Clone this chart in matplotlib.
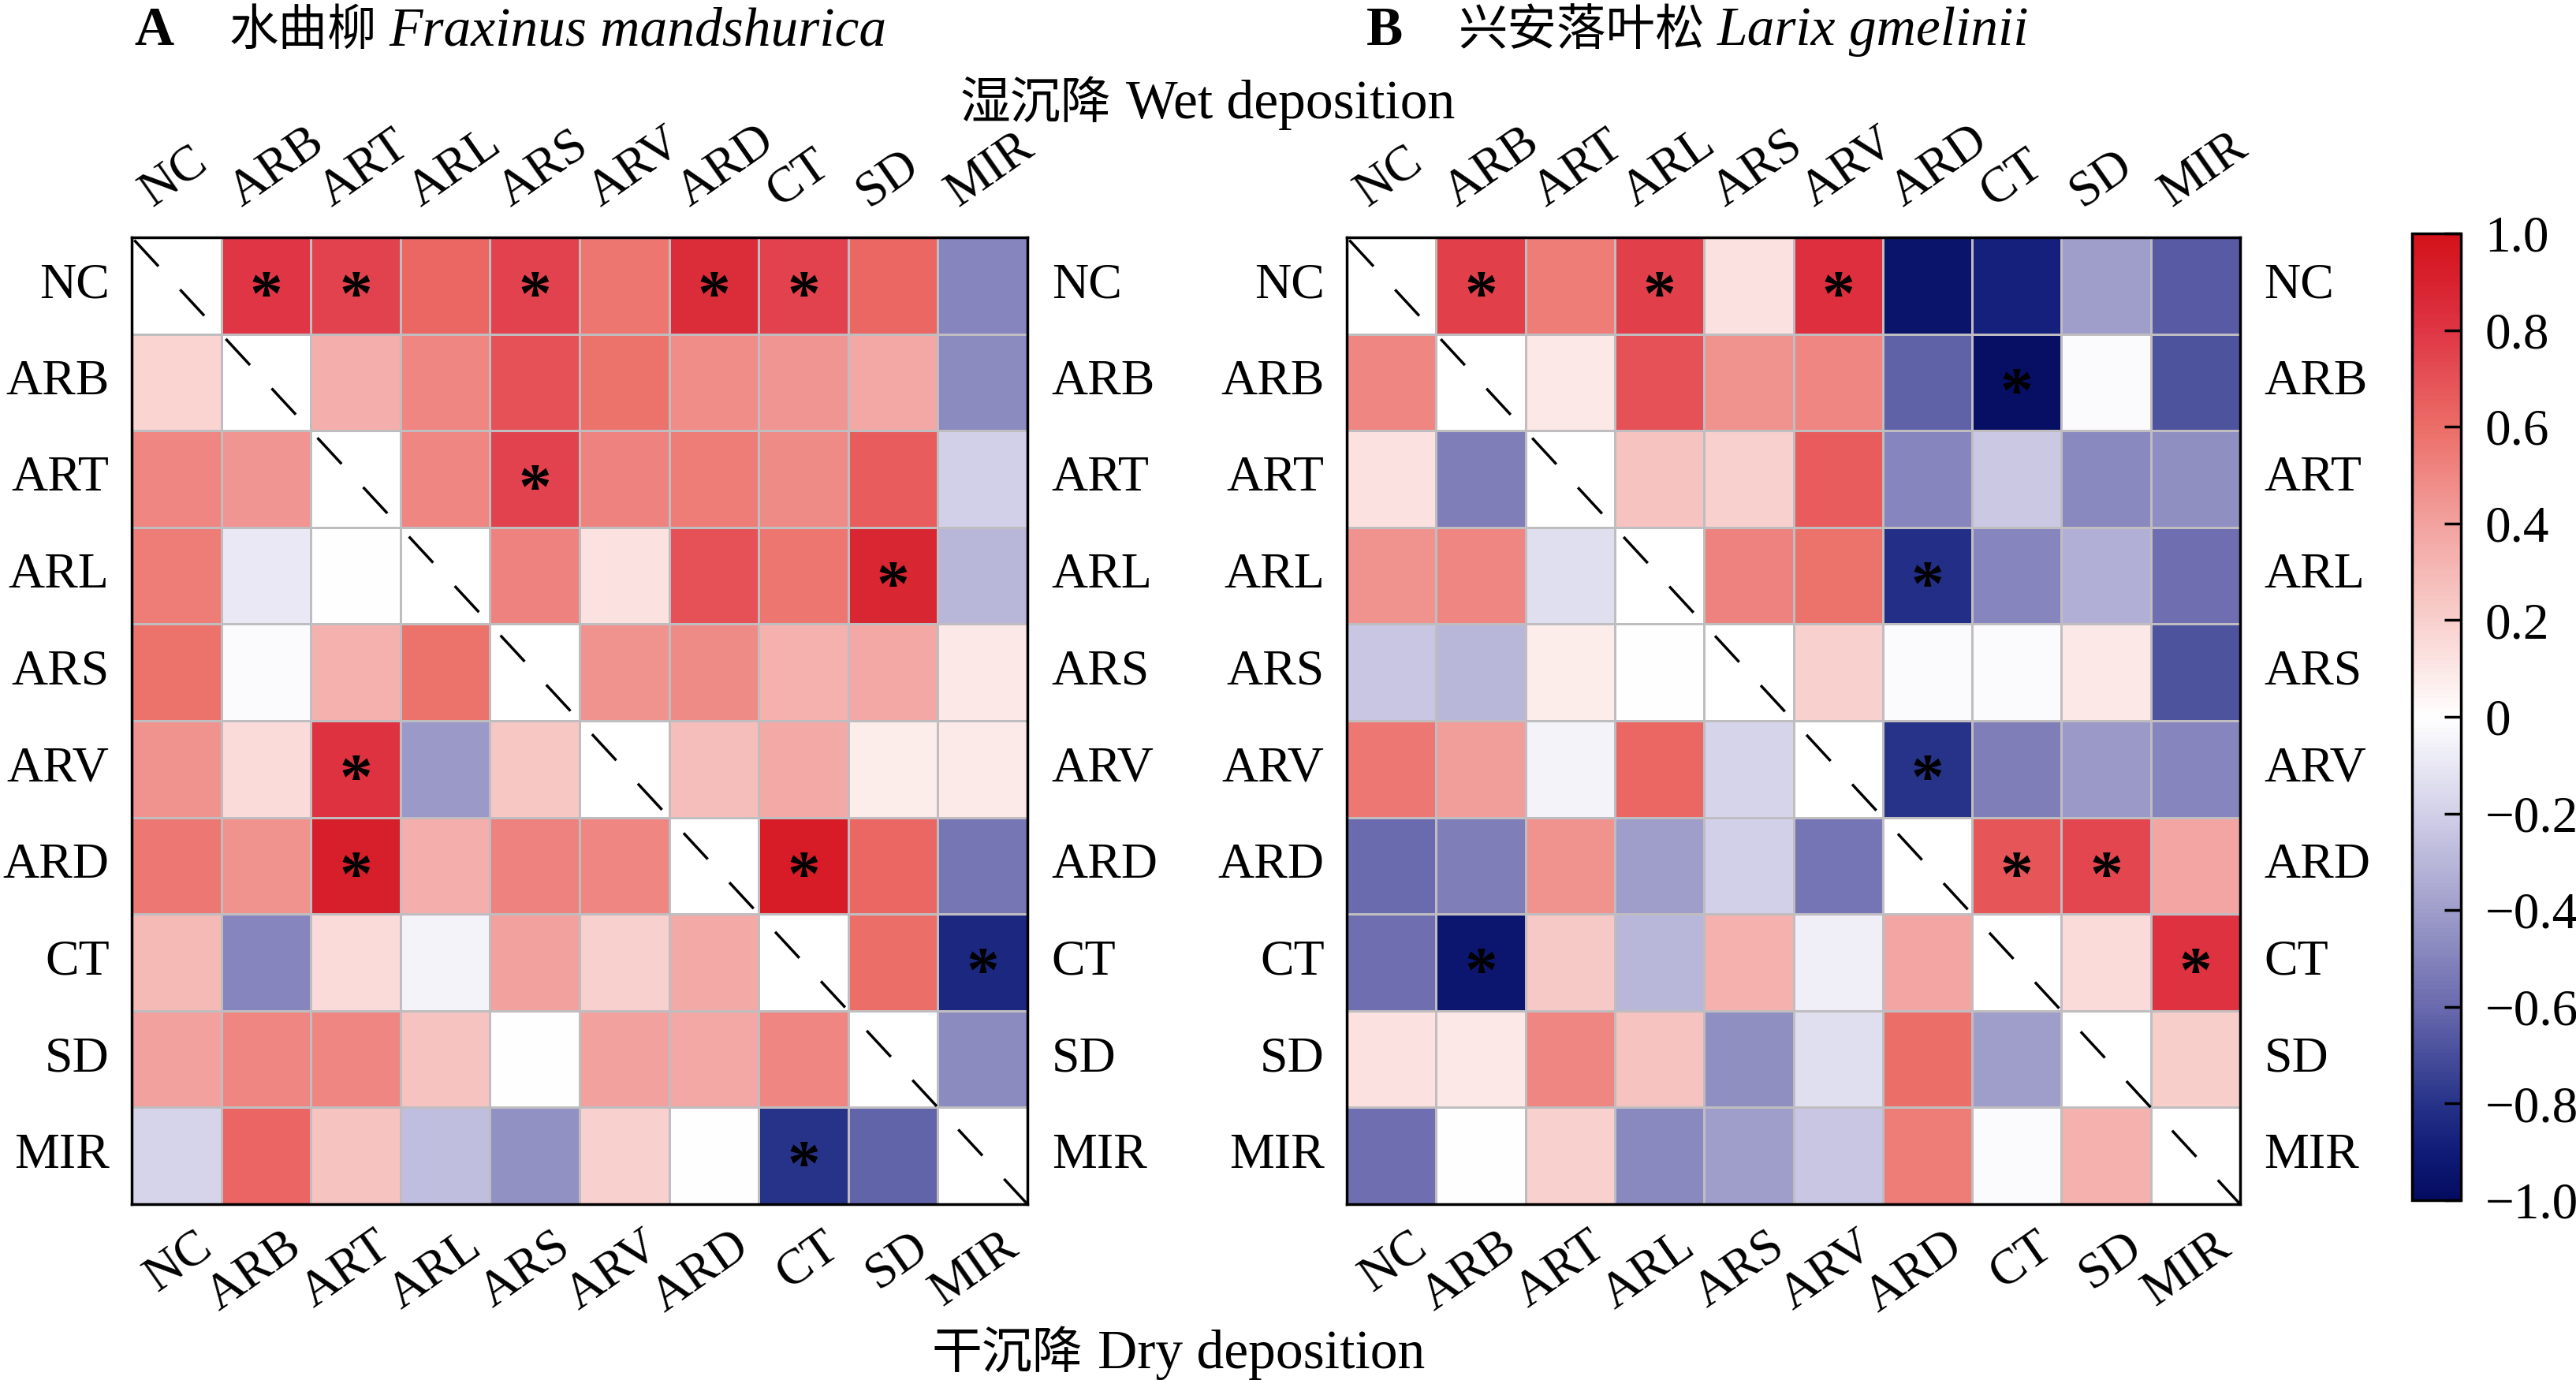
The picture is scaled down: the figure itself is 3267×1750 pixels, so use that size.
import matplotlib
matplotlib.use("Agg")
import matplotlib.pyplot as plt
import numpy as np
from matplotlib.colors import LinearSegmentedColormap

plt.rcParams['font.family'] = ['Liberation Serif', 'Noto Sans CJK SC']
plt.rcParams['axes.unicode_minus'] = True

# Data
labels = ["NC", "ARB", "ART", "ARL", "ARS", "ARV", "ARD", "CT", "SD", "MIR"]
nan = np.nan

# upper triangle = wet deposition, lower triangle = dry deposition
fm_corr = [
    [nan, 0.80, 0.75, 0.62, 0.75, 0.57, 0.85, 0.75, 0.62, -0.50],
    [0.18, nan, 0.35, 0.50, 0.70, 0.58, 0.48, 0.45, 0.37, -0.47],
    [0.50, 0.45, nan, 0.50, 0.75, 0.52, 0.54, 0.49, 0.66, -0.20],
    [0.54, -0.10, 0.00, nan, 0.52, 0.12, 0.70, 0.57, 0.88, -0.30],
    [0.58, -0.02, 0.33, 0.58, nan, 0.46, 0.49, 0.33, 0.37, 0.10],
    [0.46, 0.15, 0.82, -0.42, 0.24, nan, 0.28, 0.36, 0.08, 0.09],
    [0.56, 0.46, 0.92, 0.35, 0.52, 0.50, nan, 0.93, 0.62, -0.55],
    [0.30, -0.50, 0.15, -0.05, 0.40, 0.20, 0.36, nan, 0.60, -0.85],
    [0.40, 0.50, 0.50, 0.25, 0.00, 0.40, 0.37, 0.50, nan, -0.47],
    [-0.18, 0.63, 0.25, -0.27, -0.45, 0.20, 0.00, -0.80, -0.62, nan],
]
fm_sig = [(0, 1), (0, 2), (0, 4), (0, 6), (0, 7), (2, 4), (3, 8),
          (5, 2), (6, 2), (6, 7), (7, 9), (9, 7)]

lg_corr = [
    [nan, 0.76, 0.54, 0.76, 0.12, 0.83, -0.95, -0.88, -0.40, -0.65],
    [0.50, nan, 0.10, 0.70, 0.46, 0.50, -0.63, -0.98, -0.02, -0.68],
    [0.12, -0.52, nan, 0.25, 0.20, 0.66, -0.50, -0.23, -0.48, -0.46],
    [0.46, 0.50, -0.14, nan, 0.52, 0.58, -0.82, -0.50, -0.33, -0.58],
    [-0.24, -0.30, 0.08, 0.00, nan, 0.20, -0.02, -0.02, 0.10, -0.68],
    [0.56, 0.42, -0.05, 0.62, -0.18, nan, -0.80, -0.52, -0.42, -0.50],
    [-0.60, -0.52, 0.46, -0.40, -0.20, -0.56, nan, 0.68, 0.74, 0.39],
    [-0.58, -0.93, 0.23, -0.30, 0.33, -0.07, 0.39, nan, 0.15, 0.82],
    [0.12, 0.10, 0.50, 0.25, -0.46, -0.14, 0.60, -0.40, nan, 0.21],
    [-0.58, 0.00, 0.20, -0.48, -0.40, -0.24, 0.54, -0.02, 0.33, nan],
]
lg_sig = [(0, 1), (0, 3), (0, 5), (1, 7), (3, 6), (5, 6), (6, 7),
          (6, 8), (7, 1), (7, 9)]

cbar_ticks = [-1.0, -0.8, -0.6, -0.4, -0.2, 0.0, 0.2, 0.4, 0.6, 0.8, 1.0]
cbar_labels = ["\u22121.0", "\u22120.8", "\u22120.6", "\u22120.4", "\u22120.2",
               "0", "0.2", "0.4", "0.6", "0.8", "1.0"]

# Colour map
cmap = LinearSegmentedColormap.from_list("wetdry", [
    (0.0, "#040C60"), (0.05, "#101C78"), (0.1, "#283489"), (0.2, "#6A6AAE"),
    (0.3, "#A09ECB"), (0.4, "#D2D0E8"), (0.5, "#FFFFFF"), (0.6, "#F8D0CD"),
    (0.7, "#F2A29F"), (0.8, "#EC6E68"), (0.9, "#DF3645"), (0.95, "#D8222F"),
    (1.0, "#D4121B")])
cmap.set_bad("white")

W, H = 3267, 1750
fig = plt.figure(figsize=(W / 100, H / 100), dpi=100)


def px_rect(x0, y0, x1, y1):
    return [x0 / W, 1 - y1 / H, (x1 - x0) / W, (y1 - y0) / H]


def draw_panel(ax, corr, sig):
    data = np.ma.masked_invalid(np.array(corr, dtype=float))
    n = len(labels)
    mesh = ax.pcolormesh(np.arange(n + 1), np.arange(n + 1), data, cmap=cmap,
                         vmin=-1, vmax=1, edgecolors="#C0BDC0", linewidth=2.0)
    ax.set_xlim(0, n)
    ax.set_ylim(n, 0)
    ax.set_xticks([])
    ax.set_yticks([])
    for s in ax.spines.values():
        s.set_linewidth(2.5)
        s.set_zorder(5)
    # dashed diagonal
    ax.plot([0, n], [0, n], color="black", lw=2.5,
            linestyle=(23.2, (13.0, 11.6)), solid_capstyle="butt",
            dash_capstyle="butt")
    for (i, j) in sig:
        ax.text(j + 0.5, i + 0.64, "*", ha="center", va="center",
                fontsize=60, fontweight="bold", color="black")
    for k, lab in enumerate(labels):
        ax.text(-0.25, k + 0.5, lab, ha="right", va="center", fontsize=46)
        ax.text(n + 0.27, k + 0.5, lab, ha="left", va="center", fontsize=46)
        ax.text(k + 0.3, -0.22, lab, ha="left", va="bottom", fontsize=46,
                rotation=35, rotation_mode="anchor")
        ax.text(k + 0.7, n + 0.2, lab, ha="right", va="top", fontsize=46,
                rotation=35, rotation_mode="anchor")
    return mesh


ax_a = fig.add_axes(px_rect(167, 301, 1303, 1527))
mesh = draw_panel(ax_a, fm_corr, fm_sig)
ax_b = fig.add_axes(px_rect(1708, 301, 2841, 1527))
draw_panel(ax_b, lg_corr, lg_sig)

cax = fig.add_axes(px_rect(3059, 296, 3121, 1522))
cb = fig.colorbar(mesh, cax=cax, ticks=cbar_ticks)
cb.ax.set_yticklabels(cbar_labels)
cb.ax.tick_params(direction="in", length=15, width=2.5, labelsize=47, pad=22,
                  right=True, left=False)
cb.outline.set_linewidth(2.5)

# titles and axis captions, built piece by piece
renderer = fig.canvas.get_renderer()


def text_pieces(x_px, y_px, pieces):
    x = x_px
    for txt, size, kw, gap in pieces:
        t = fig.text(x / W, 1 - y_px / H, txt, ha="left", va="baseline",
                     fontsize=size, **kw)
        bb = t.get_window_extent(renderer)
        x = bb.x1 + gap


text_pieces(170, 57, [("A", 50, {"fontweight": "bold"}, 70),
                      ("水曲柳", 45, {}, 16),
                      ("Fraxinus mandshurica", 50, {"style": "italic"}, 0)])
text_pieces(1733, 57, [("B", 50, {"fontweight": "bold"}, 70),
                       ("兴安落叶松", 45, {}, 16),
                       ("Larix gmelinii", 50, {"style": "italic"}, 0)])
text_pieces(1218, 150, [("湿沉降", 46, {}, 18),
                        ("Wet deposition", 50, {}, 0)])
text_pieces(1182, 1735, [("干沉降", 46, {}, 18),
                         ("Dry deposition", 50, {}, 0)])

fig.savefig("out.png", dpi=100)
